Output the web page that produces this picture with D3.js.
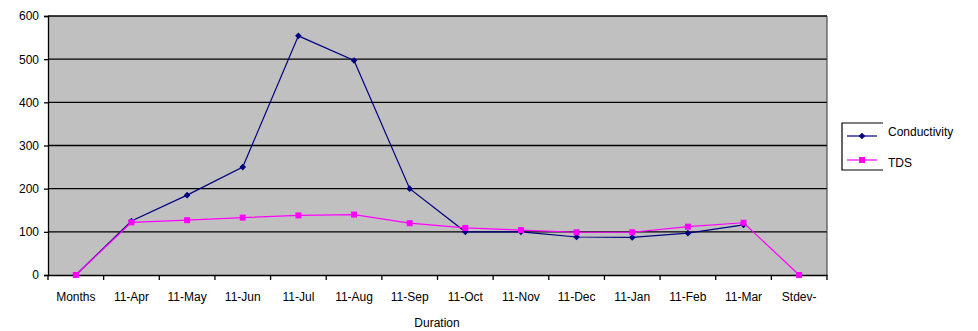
<!DOCTYPE html>
<html><head><meta charset="utf-8">
<script src="https://cdn.jsdelivr.net/npm/d3@7"></script>
<style>body{margin:0;background:#fff;} svg{display:block;} text{font-family:"Liberation Sans",Arial,sans-serif;fill:#000;}</style>
</head><body><svg id="c" width="978" height="331"></svg>
<script>
const categories = ["Months","11-Apr","11-May","11-Jun","11-Jul","11-Aug","11-Sep","11-Oct","11-Nov","11-Dec","11-Jan","11-Feb","11-Mar","Stdev-"];
const conductivity = [0,125,185,250,554,497,200,100,100,88,87,97,116,null];
const tds = [0,122,127,133,138,140,120,109,104,99,99,112,121,0];
const yTicks = [0,100,200,300,400,500,600];
const seriesNames = ["Conductivity","TDS"];
const colors = ["#000080","#FF00FF"];

const svg = d3.select("#c");
const L=48, R=827, T=16, B=275;
const x = d3.scaleBand().domain(categories).range([L,R]);
const y = d3.scaleLinear().domain([0,600]).range([B,T]);

svg.append("rect").attr("x",L).attr("y",T).attr("width",R-L).attr("height",B-T).attr("fill","#C0C0C0");
svg.append("g").selectAll("line").data(yTicks.filter(d=>d>0)).join("line")
  .attr("x1",L).attr("x2",R).attr("y1",d=>y(d)).attr("y2",d=>y(d)).attr("stroke","#000").attr("stroke-width",1.3);
svg.append("line").attr("x1",R).attr("x2",R).attr("y1",T).attr("y2",B).attr("stroke","#333").attr("stroke-width",1);

const ya = svg.append("g").attr("transform",`translate(${L},0)`).call(d3.axisLeft(y).tickValues(yTicks).tickSize(4).tickPadding(5));
ya.select(".domain").attr("stroke","#000").attr("stroke-width",1.3);
ya.selectAll("line").attr("stroke","#000").attr("stroke-width",1.3);
ya.selectAll("text").attr("font-size","12px");

const xa = svg.append("g").attr("transform",`translate(0,${B})`).call(d3.axisBottom(x).tickSize(0).tickPadding(17));
xa.select(".domain").attr("stroke","#000").attr("stroke-width",1.3);
xa.selectAll("text").attr("font-size","12px");
const bounds = categories.map(c=>x(c)).concat([R]);
svg.append("g").selectAll("line").data(bounds).join("line")
  .attr("x1",d=>d).attr("x2",d=>d).attr("y1",B).attr("y2",B+5).attr("stroke","#000").attr("stroke-width",1.3);

svg.append("text").attr("x",437).attr("y",327).attr("text-anchor","middle").attr("font-size","12px").text("Duration");

const cx = c=>x(c)+x.bandwidth()/2;
const diamond = d3.symbol().type(d3.symbolSquare).size(22);
const square = d3.symbol().type(d3.symbolSquare).size(36);
const data = [conductivity, tds];
data.forEach((vals,i)=>{
  const pts = categories.map((c,j)=>({c,v:vals[j]})).filter(p=>p.v!==null);
  svg.append("path").datum(pts).attr("fill","none").attr("stroke",colors[i]).attr("stroke-width",1.2)
    .attr("d",d3.line().x(p=>cx(p.c)).y(p=>y(p.v)));
  svg.append("g").selectAll("path").data(pts).join("path")
    .attr("transform",p=>`translate(${cx(p.c)},${y(p.v)})` + (i===0?" rotate(45)":""))
    .attr("d",i===0?diamond:square).attr("fill",colors[i]);
});

// legend
const lg = svg.append("g");
lg.append("path").attr("d","M883,123 H842 V170 H883").attr("fill","none").attr("stroke","#000").attr("stroke-width",1.2);
const legY = [136,160], textY = [136,167];
seriesNames.forEach((n,i)=>{
  const yy = legY[i];
  lg.append("line").attr("x1",847).attr("x2",877).attr("y1",yy).attr("y2",yy).attr("stroke",colors[i]).attr("stroke-width",1.2);
  lg.append("path").attr("transform",`translate(862,${yy})`+(i===0?" rotate(45)":"")).attr("d",i===0?diamond:square).attr("fill",colors[i]);
  lg.append("text").attr("x",888).attr("y",textY[i]).attr("font-size","12px").text(n);
});
</script></body></html>
